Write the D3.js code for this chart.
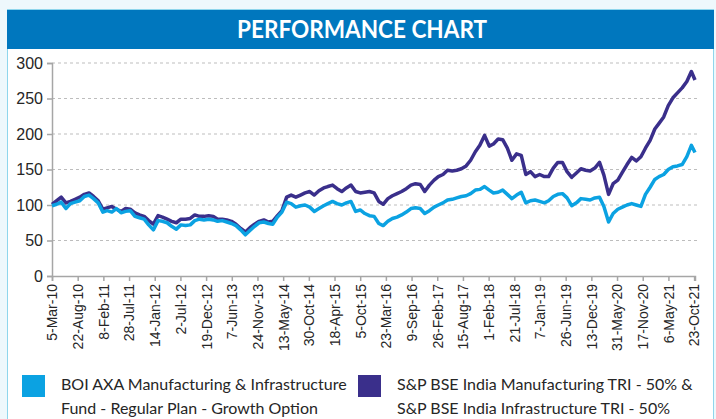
<!DOCTYPE html>
<html>
<head>
<meta charset="utf-8">
<script src="https://cdn.jsdelivr.net/npm/d3@7"></script>
<style>
  body { margin: 0; background: #eef8fc; }
  svg { display: block; font-family: Lato, "Open Sans", sans-serif; }
</style>
</head>
<body>
<div id="chart"></div>
<script>
// Monthly readings (5th of each month from Mar-2010), last point end of Oct-2021
const fundValues = [
  99, 101, 104, 95, 102, 104, 106, 112, 114, 109, 103, 90, 92, 90, 95, 89, 91, 92, 84, 82,
  80, 72, 65, 78, 77, 75, 70, 66, 72, 71, 72, 78, 80, 79, 80, 79, 77, 78, 76, 74,
  71, 65, 58, 64, 70, 75, 76, 74, 73, 83, 90, 104, 102, 97, 99, 100, 97, 91, 95, 99,
  102, 105, 102, 100, 103, 105, 91, 93, 88, 85, 84, 74, 71, 77, 81, 83, 86, 90, 95, 96,
  95, 88, 92, 97, 100, 103, 107, 108, 110, 112, 113, 116, 121, 122, 126, 121, 117, 118, 121, 115,
  109, 114, 118, 103, 106, 107, 105, 103, 106, 112, 115, 116, 110, 99, 103, 109, 108, 107, 110, 111,
  98, 76, 88, 94, 97, 100, 102, 100, 98, 115, 125, 136, 140, 143, 150, 154, 155, 157, 168, 184,
  174
];
const benchValues = [
  101, 106, 111, 103, 105, 108, 111, 115, 117, 112, 106, 94, 96, 98, 94, 91, 95, 94, 89, 86,
  84, 78, 73, 85, 83, 80, 77, 75, 80, 80, 81, 86, 84, 84, 85, 84, 80, 80, 79, 77,
  73, 67, 62, 68, 73, 77, 79, 76, 77, 85, 92, 111, 114, 111, 114, 117, 119, 114, 120, 124,
  126, 128, 123, 119, 124, 128, 119, 117, 118, 119, 117, 105, 101, 109, 113, 116, 119, 123, 128, 130,
  129, 119, 128, 135, 140, 143, 149, 148, 149, 151, 155, 163, 175, 184, 198, 183, 186, 193, 192, 180,
  163, 172, 170, 143, 147, 140, 143, 140, 140, 152, 160, 160, 147, 139, 145, 151, 149, 148, 152, 160,
  142, 115, 130, 135, 146, 157, 167, 162, 168, 180, 191, 207, 215, 224, 240, 251, 258, 265, 274, 288,
  276
];
const tickLabels = [
  "5-Mar-10", "22-Aug-10", "8-Feb-11", "28-Jul-11", "14-Jan-12", "2-Jul-12", "19-Dec-12",
  "7-Jun-13", "24-Nov-13", "13-May-14", "30-Oct-14", "18-Apr-15", "5-Oct-15", "23-Mar-16",
  "9-Sep-16", "26-Feb-17", "15-Aug-17", "1-Feb-18", "21-Jul-18", "7-Jan-19", "26-Jun-19",
  "13-Dec-19", "31-May-20", "17-Nov-20", "6-May-21", "23-Oct-21"
];
const yTicks = [0, 50, 100, 150, 200, 250, 300];
const seriesNames = [
  ["BOI AXA Manufacturing & Infrastructure", "Fund - Regular Plan - Growth Option"],
  ["S&P BSE India Manufacturing TRI - 50% &", "S&P BSE India Infrastructure TRI - 50%"]
];
const colors = ["#0ba2e2", "#3a2f8b"];

const parse = d3.timeParse("%d-%b-%y");
const dates = d3.timeMonth.range(new Date(2010, 2, 1), new Date(2021, 9, 2))
  .map(d => new Date(d.getFullYear(), d.getMonth(), 5));
dates.push(new Date(2021, 9, 29));

const width = 716, height = 419;
const svg = d3.select("#chart").append("svg")
  .attr("width", width)
  .attr("height", height);

// panel and title bar
svg.append("rect")
  .attr("x", 7.5).attr("y", 9.5)
  .attr("width", 706).attr("height", 420)
  .attr("fill", "#fff")
  .attr("stroke", "#8fd6ec");
svg.append("rect")
  .attr("x", 7).attr("y", 10)
  .attr("width", 707).attr("height", 39)
  .attr("fill", "#0077be");
svg.append("text")
  .attr("x", 362).attr("y", 38)
  .attr("text-anchor", "middle")
  .attr("fill", "#fff")
  .attr("textLength", 250)
  .attr("lengthAdjust", "spacingAndGlyphs")
  .style("font-size", "24px")
  .style("font-weight", "bold")
  .text("PERFORMANCE CHART");

const x = d3.scaleTime()
  .domain([dates[0], dates[dates.length - 1]])
  .range([52, 695]);
const y = d3.scaleLinear()
  .domain([0, 300])
  .range([276, 63]);

// gridlines
svg.append("g")
  .selectAll("line")
  .data(yTicks.slice(1))
  .join("line")
  .attr("x1", 52).attr("x2", 697)
  .attr("y1", d => y(d)).attr("y2", d => y(d))
  .attr("stroke", "#bdbdbd")
  .attr("stroke-dasharray", "3,3");

// axes
const yAxis = svg.append("g")
  .attr("transform", "translate(52,0)")
  .call(d3.axisLeft(y).tickValues(yTicks).tickSize(5).tickPadding(4));
const xAxis = svg.append("g")
  .attr("transform", "translate(0,276)")
  .call(d3.axisBottom(x).tickValues(tickLabels.map(parse)).tickSize(5).tickPadding(4)
    .tickFormat(d3.timeFormat("%-d-%b-%y")));
[xAxis, yAxis].forEach(a => {
  a.select(".domain").attr("stroke", "#a6a6a6").attr("stroke-width", 1.5);
  a.selectAll(".tick line").attr("stroke", "#a6a6a6").attr("stroke-width", 1.5);
  a.selectAll("text").attr("fill", "#262626");
});
yAxis.selectAll("text").style("font-size", "16px");
xAxis.selectAll("text")
  .style("font-size", "14px")
  .attr("transform", "rotate(-90)")
  .attr("text-anchor", "end")
  .attr("x", -8)
  .attr("y", 0)
  .attr("dy", "0.35em");

// series lines
const line = d3.line()
  .x((d, i) => x(dates[i]))
  .y(d => y(d));
[benchValues, fundValues].forEach((vals, k) => {
  svg.append("path")
    .datum(vals)
    .attr("fill", "none")
    .attr("stroke", k === 0 ? colors[1] : colors[0])
    .attr("stroke-width", 3.5)
    .attr("stroke-linejoin", "round")
    .attr("d", line);
});

// legend
const legend = svg.append("g");
const lx = [22, 358];
seriesNames.forEach((lines, i) => {
  legend.append("rect")
    .attr("x", lx[i]).attr("y", 375)
    .attr("width", 23).attr("height", 22)
    .attr("fill", colors[i]);
  lines.forEach((t, j) => {
    legend.append("text")
      .attr("x", lx[i] + 39)
      .attr("y", 390 + j * 24)
      .style("font-size", "16px")
      .attr("fill", "#262626")
      .text(t);
  });
});
</script>
</body>
</html>
